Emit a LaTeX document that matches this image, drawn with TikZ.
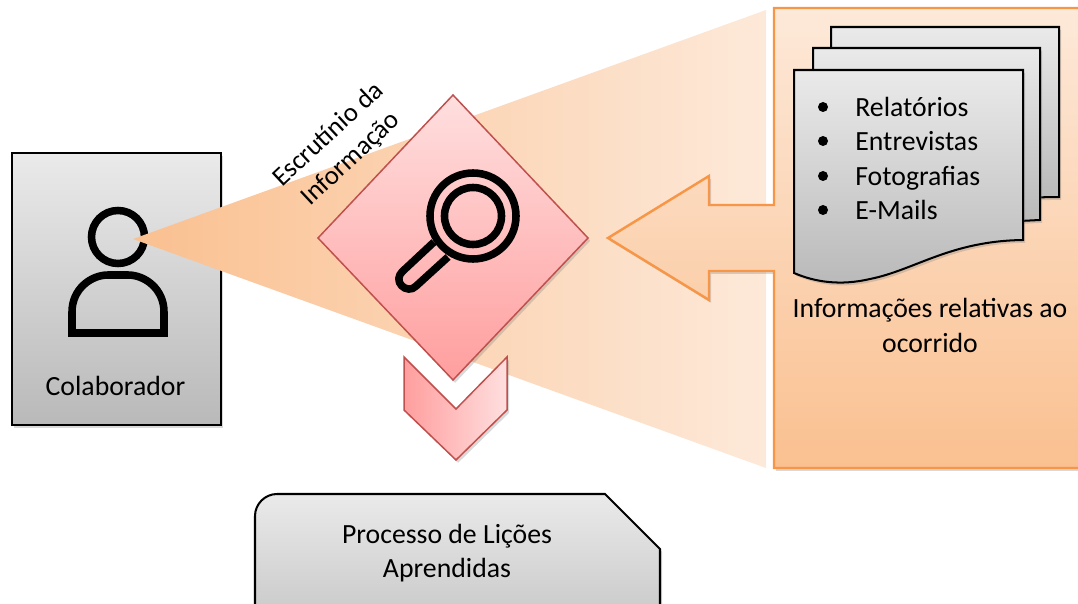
\documentclass[tikz,border=0pt]{standalone}
\usepackage{xcolor}
\usepackage{fontspec}
\setmainfont{Carlito}
\usetikzlibrary{shadows}
\definecolor{peachlight}{HTML}{FDE9D9}
\definecolor{peachdark}{HTML}{FAC090}
\definecolor{peachline}{HTML}{F79646}
\definecolor{redline}{HTML}{C0504D}
\definecolor{redlight}{HTML}{FFDFDF}
\definecolor{reddark}{HTML}{FF9E9E}
\definecolor{greylight}{HTML}{EAEAEA}
\definecolor{greydark}{HTML}{B9B9B9}
\tikzset{
    softshadow/.style={drop shadow={opacity=.3,shadow xshift=1.2pt,shadow yshift=-1.6pt}},
    greybox/.style={draw=black, line width=1.15pt, top color=greylight, bottom color=greydark, softshadow},
    redbox/.style={draw=redline, line width=.85pt, softshadow},
    icon/.style={draw=black, line width=4.3pt},
    label/.style={font=\fontsize{15.8}{19.5}\selectfont, align=center, inner sep=0pt, text=black}
}
\begin{document}
\begin{tikzpicture}[x=0.02cm, y=-0.02cm]
    \useasboundingbox (0,0) rectangle (1078,604);
    \clip (0,0) rectangle (1078,604);
    % left box
    \draw[greybox] (12,153) rectangle (221,425);
    \draw[icon] (118,237) circle (26.5);
    \draw[icon] (72,333) -- (72,312) .. controls (72,289) and (91,275) .. (108,275) -- (128,275) .. controls (145,275) and (164,289) .. (164,312) -- (164,333) -- cycle;
    \node[label] (colaborador) at (115.5,386) {Colaborador};
    % beam
    \shade[left color=peachdark, right color=peachlight] (133,239) -- (766,10) -- (766,468) -- cycle;
    % panel with arrow
    \draw[draw=peachline, line width=1.4pt, top color=peachlight, bottom color=peachdark, softshadow]
        (1090,8) -- (774,8) -- (774,205) -- (709,205) -- (709,176) -- (608,238) -- (709,300) -- (709,271) -- (774,271) -- (774,468) -- (1090,468) -- cycle;
    % sheets
    \draw[greybox] (831,27) -- (1059,27) -- (1059,197) -- (1000,198) -- (831,198) -- cycle;
    \draw[greybox] (813,48) -- (1040,48) -- (1040,220) -- (1000,222) -- (813,222) -- cycle;
    \draw[greybox] (794,70) -- (1023,70) -- (1023,240) .. controls (950,241) and (915,270) .. (870,279) .. controls (840,286) and (815,282) .. (794,273) -- cycle;
    \foreach \i/\y/\txt in {1/107/Relatórios, 2/141/Entrevistas, 3/176/Fotografias, 4/210/E-Mails}{
        \fill[black] (823,\y) circle (5);
        \node[label, anchor=base west] (item\i) at (855,\y+10) {\txt};
    }
    \node[label] (ocorrido) at (930,325.5) {Informações relativas ao\\ocorrido};
    % diamond
    \draw[redbox, top color=redlight, bottom color=reddark] (453,95) -- (588,238) -- (453,380) -- (318,238) -- cycle;
    \draw[icon] (473,216) circle (43);
    \draw[icon] (473,216) circle (28.5);
    \draw[icon, line join=round] (434,242) -- (402.3,271.6) .. controls (398,275.6) and (397.6,281.6) .. (401.6,285.7) .. controls (405.6,289.8) and (411.7,290.4) .. (415.7,286.4) -- (448,257);
    \node[label, rotate=43, scale=.96] (escrutinio) at (340,147) {Escrutínio da\\Informação};
    % chevron
    \draw[redbox, left color=reddark, right color=redlight] (404,357) -- (456,409) -- (507,357) -- (507,410) -- (456,460) -- (404,410) -- cycle;
    % bottom box
    \draw[greybox] (255,680) -- (255,516) .. controls (255,504) and (265,494) .. (277,494) -- (605,494) -- (660,549) -- (660,680) -- cycle;
    \node[label] (processo) at (447,553) {Processo de Lições\\Aprendidas};
\end{tikzpicture}
\end{document}
